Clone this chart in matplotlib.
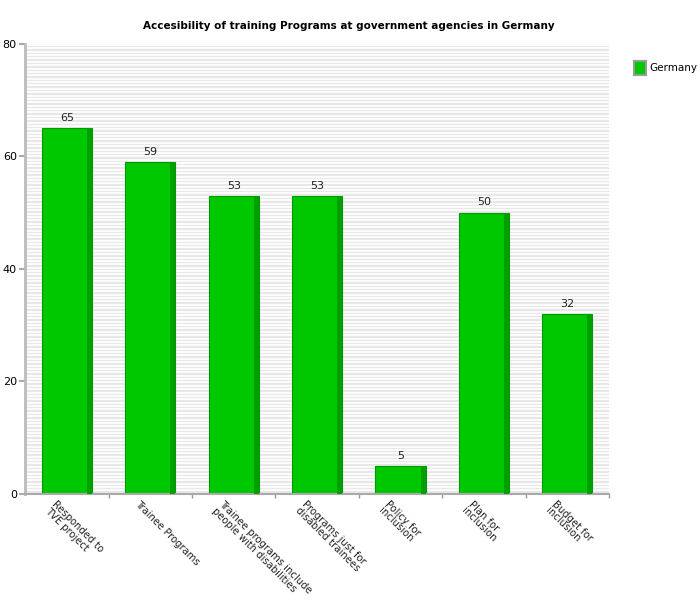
import matplotlib
matplotlib.use('Agg')
import matplotlib.pyplot as plt
import numpy as np

categories = ['Responded to\nTVE project', 'Trainee Programs',
              'Trainee programs include\npeople with disabilities',
              'Programs just for\ndisabled trainees', 'Policy for\ninclusion',
              'Plan for\ninclusion', 'Budget for\ninclusion']
values = [65, 59, 53, 53, 5, 50, 32]
series_name = 'Germany'

fig = plt.figure(figsize=(7, 6), dpi=100)
ax = fig.add_axes([0.036, 0.177, 0.834, 0.75])

# striped background
ax.set_facecolor('#e8e8e8')
for yy in np.arange(0, 80, 0.6):
    ax.axhline(yy, color='white', lw=1.3, zorder=0)

x = np.arange(len(categories))
w = 0.6
ax.bar(x, values, width=w, color='#00c800', edgecolor='#009a00', lw=0.8, zorder=2)
# darker right edge for the 3d look
ax.bar(x + w / 2 - 0.03, values, width=0.06, color='#00a000', lw=0, zorder=3)

for xi, v in zip(x, values):
    ax.text(xi, v + 0.9, str(v), ha='center', va='bottom', fontsize=8, color='#222222')

ax.set_xlim(-0.5, len(categories) - 0.5)
ax.set_ylim(0, 80)
ax.set_yticks([0, 20, 40, 60, 80])
ax.tick_params(axis='y', labelsize=8, color='#aaaaaa', length=4, width=1.5, pad=2)

ax.set_xticks(x)
ax.set_xticklabels([])
ax.tick_params(axis='x', length=0)
ax.set_xticks(np.arange(0.5, len(categories) - 0.5 + 1, 1), minor=True)
ax.tick_params(axis='x', which='minor', length=3, color='#999999', width=1)

for xi, lab in zip(x, categories):
    ax.text(xi - 0.12, -0.9, lab, rotation=-45, ha='left', va='top',
            rotation_mode='anchor', fontsize=7.2, color='#222222', linespacing=0.95)

for s in ['top', 'right']:
    ax.spines[s].set_visible(False)
ax.spines['left'].set_color('#bbbbbb')
ax.spines['left'].set_linewidth(2)
ax.spines['bottom'].set_color('#aaaaaa')
ax.spines['bottom'].set_linewidth(1.5)

fig.text(0.499, 0.957, 'Accesibility of training Programs at government agencies in Germany',
         ha='center', va='center', fontsize=7.5, fontweight='bold')

handle = plt.Rectangle((0, 0), 1, 1, facecolor='#00c800', edgecolor='#999999', lw=1.5)
fig.legend([handle], [series_name], loc='upper left', bbox_to_anchor=(0.906, 0.898),
           frameon=False, fontsize=7.5, handlelength=1.1, handleheight=1.6,
           handletextpad=0.4, borderaxespad=0, borderpad=0)

fig.savefig('out.png', dpi=100)
